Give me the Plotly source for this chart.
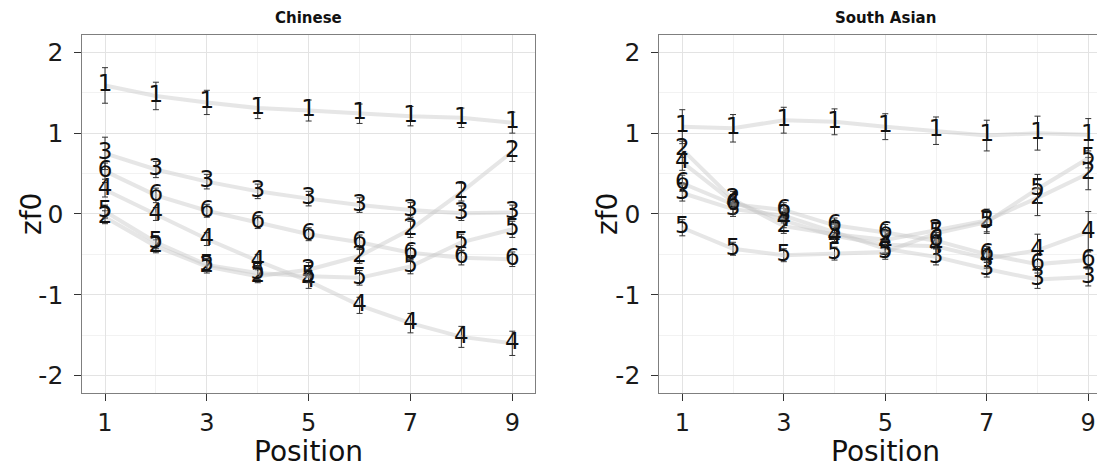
import plotly.graph_objects as go

positions = [1, 2, 3, 4, 5, 6, 7, 8, 9]
series_labels = ["1", "2", "3", "4", "5", "6"]
panel_titles = ["Chinese", "South Asian"]

# Chinese panel values (zf0)
chinese_1 = [1.59, 1.46, 1.38, 1.31, 1.28, 1.24, 1.21, 1.19, 1.13]
chinese_2 = [-0.04, -0.40, -0.65, -0.77, -0.69, -0.52, -0.19, 0.27, 0.77]
chinese_3 = [0.75, 0.55, 0.40, 0.28, 0.19, 0.11, 0.05, 0.01, 0.02]
chinese_4 = [0.30, 0.00, -0.31, -0.58, -0.83, -1.13, -1.35, -1.52, -1.60]
chinese_5 = [0.03, -0.35, -0.63, -0.73, -0.77, -0.79, -0.65, -0.35, -0.19]
chinese_6 = [0.53, 0.23, 0.04, -0.10, -0.25, -0.35, -0.48, -0.54, -0.56]

chinese_err_1 = [0.22, 0.17, 0.15, 0.13, 0.13, 0.12, 0.12, 0.12, 0.13]
chinese_err_2 = [0.08, 0.08, 0.08, 0.08, 0.09, 0.09, 0.10, 0.11, 0.12]
chinese_err_3 = [0.20, 0.10, 0.09, 0.09, 0.09, 0.09, 0.09, 0.09, 0.09]
chinese_err_4 = [0.09, 0.08, 0.08, 0.08, 0.09, 0.10, 0.12, 0.13, 0.15]
chinese_err_5 = [0.08, 0.08, 0.08, 0.08, 0.08, 0.09, 0.09, 0.10, 0.10]
chinese_err_6 = [0.10, 0.09, 0.08, 0.08, 0.08, 0.09, 0.09, 0.09, 0.09]

# South Asian panel values (zf0)
south_asian_1 = [1.08, 1.06, 1.16, 1.14, 1.08, 1.03, 0.97, 1.00, 0.98]
south_asian_2 = [0.80, 0.18, -0.15, -0.25, -0.32, -0.20, -0.08, 0.20, 0.50]
south_asian_3 = [0.26, 0.06, -0.02, -0.22, -0.43, -0.53, -0.68, -0.81, -0.78]
south_asian_4 = [0.64, 0.15, -0.08, -0.27, -0.38, -0.40, -0.55, -0.45, -0.22]
south_asian_5 = [-0.17, -0.43, -0.51, -0.49, -0.47, -0.24, -0.10, 0.31, 0.69]
south_asian_6 = [0.38, 0.12, 0.05, -0.14, -0.23, -0.33, -0.50, -0.62, -0.57]

south_asian_err_1 = [0.21, 0.17, 0.16, 0.16, 0.16, 0.17, 0.19, 0.21, 0.20]
south_asian_err_2 = [0.10, 0.10, 0.09, 0.09, 0.10, 0.10, 0.14, 0.22, 0.20]
south_asian_err_3 = [0.10, 0.09, 0.09, 0.09, 0.10, 0.10, 0.10, 0.11, 0.11]
south_asian_err_4 = [0.10, 0.09, 0.09, 0.09, 0.10, 0.10, 0.12, 0.20, 0.25]
south_asian_err_5 = [0.10, 0.08, 0.08, 0.08, 0.09, 0.12, 0.14, 0.18, 0.12]
south_asian_err_6 = [0.10, 0.12, 0.09, 0.09, 0.10, 0.10, 0.10, 0.11, 0.11]

x_tick_vals = [1, 3, 5, 7, 9]
y_tick_vals = [-2, -1, 0, 1, 2]
y_tick_text = ["-2", "-1", "0", "1", "2"]

panels = [
    ([chinese_1, chinese_2, chinese_3, chinese_4, chinese_5, chinese_6],
     [chinese_err_1, chinese_err_2, chinese_err_3, chinese_err_4, chinese_err_5, chinese_err_6]),
    ([south_asian_1, south_asian_2, south_asian_3, south_asian_4, south_asian_5, south_asian_6],
     [south_asian_err_1, south_asian_err_2, south_asian_err_3, south_asian_err_4, south_asian_err_5, south_asian_err_6]),
]

# the page puts the figure 8px in from the window's top-left corner
OFF = 8
W, H = 1105 - OFF, 467 - OFF
FONT = "DejaVu Sans, Liberation Sans, Arial, sans-serif"


def fx(sx):
    return (sx - OFF) / W


def fy(sy):
    return 1 - (sy - OFF) / H


fig = go.Figure()
for p, (vals, errs) in enumerate(panels):
    xa = "x" if p == 0 else "x2"
    ya = "y" if p == 0 else "y2"
    for lab, v, e in zip(series_labels, vals, errs):
        fig.add_trace(go.Scatter(
            x=positions, y=v, xaxis=xa, yaxis=ya,
            mode="lines+text", text=[lab] * len(positions),
            textposition="middle center",
            textfont=dict(family=FONT, size=23, color="#111111"),
            line=dict(color="rgba(200,200,200,0.45)", width=4),
            error_y=dict(type="data", array=e, visible=True,
                         color="#333333", thickness=1, width=3),
            showlegend=False, hoverinfo="skip",
            cliponaxis=False,
        ))

ydom = [fy(393.3), fy(35)]
x1dom = [fx(82.3), fx(535)]
x2dom = [fx(659.3), 1.0]

common_x = dict(
    tickvals=x_tick_vals, ticks="outside", ticklen=7, tickwidth=1,
    tickcolor="#333333", showgrid=True, gridcolor="#e3e3e3", gridwidth=1,
    minor=dict(dtick=1, tick0=0, showgrid=True, gridcolor="#f2f2f2", gridwidth=1),
    zeroline=False, showline=True, linecolor="#7f7f7f", linewidth=1,
    tickfont=dict(family=FONT, size=24, color="#1a1a1a"),
    ticklabelstandoff=1,
)
common_y = dict(
    tickvals=y_tick_vals, ticktext=y_tick_text, ticks="outside", ticklen=7, tickwidth=1,
    tickcolor="#333333", showgrid=True, gridcolor="#e3e3e3", gridwidth=1,
    minor=dict(dtick=0.5, tick0=0, showgrid=True, gridcolor="#f2f2f2", gridwidth=1),
    zeroline=False, showline=True, linecolor="#7f7f7f", linewidth=1,
    tickfont=dict(family=FONT, size=25, color="#1a1a1a"),
    range=[-2.218, 2.214], domain=ydom, ticklabelstandoff=6,
)

fig.update_layout(
    width=W, height=H, autosize=False,
    margin=dict(l=0, r=0, t=0, b=0),
    paper_bgcolor="white", plot_bgcolor="white",
    font=dict(family=FONT),
    xaxis=dict(common_x, domain=x1dom, range=[0.554, 9.446], anchor="y", mirror=True),
    yaxis=dict(common_y, anchor="x", mirror=True),
    xaxis2=dict(common_x, domain=x2dom, range=[0.547, 9.33], anchor="y2", mirror=True),
    yaxis2=dict(common_y, anchor="x2", mirror=False),
)

annotations = []
centers = [(82.3 + 535) / 2, (659.3 + 1112) / 2]
for title, cx in zip(panel_titles, centers):
    annotations.append(dict(text="<b>" + title + "</b>", x=fx(cx), y=1.0,
                            xref="paper", yref="paper", showarrow=False,
                            xanchor="center", yanchor="top", borderpad=0,
                            font=dict(family=FONT, size=15, color="#111111")))
    annotations.append(dict(text="Position", x=fx(cx), y=fy(451),
                            xref="paper", yref="paper", showarrow=False,
                            xanchor="center", yanchor="middle",
                            font=dict(family=FONT, size=28, color="#111111")))
for yx in [31, 607]:
    annotations.append(dict(text="zf0", x=fx(yx), y=fy(214),
                            xref="paper", yref="paper", showarrow=False,
                            xanchor="center", yanchor="middle", textangle=-90,
                            font=dict(family=FONT, size=28, color="#111111")))
fig.update_layout(annotations=annotations)

fig.write_html("out.html")
